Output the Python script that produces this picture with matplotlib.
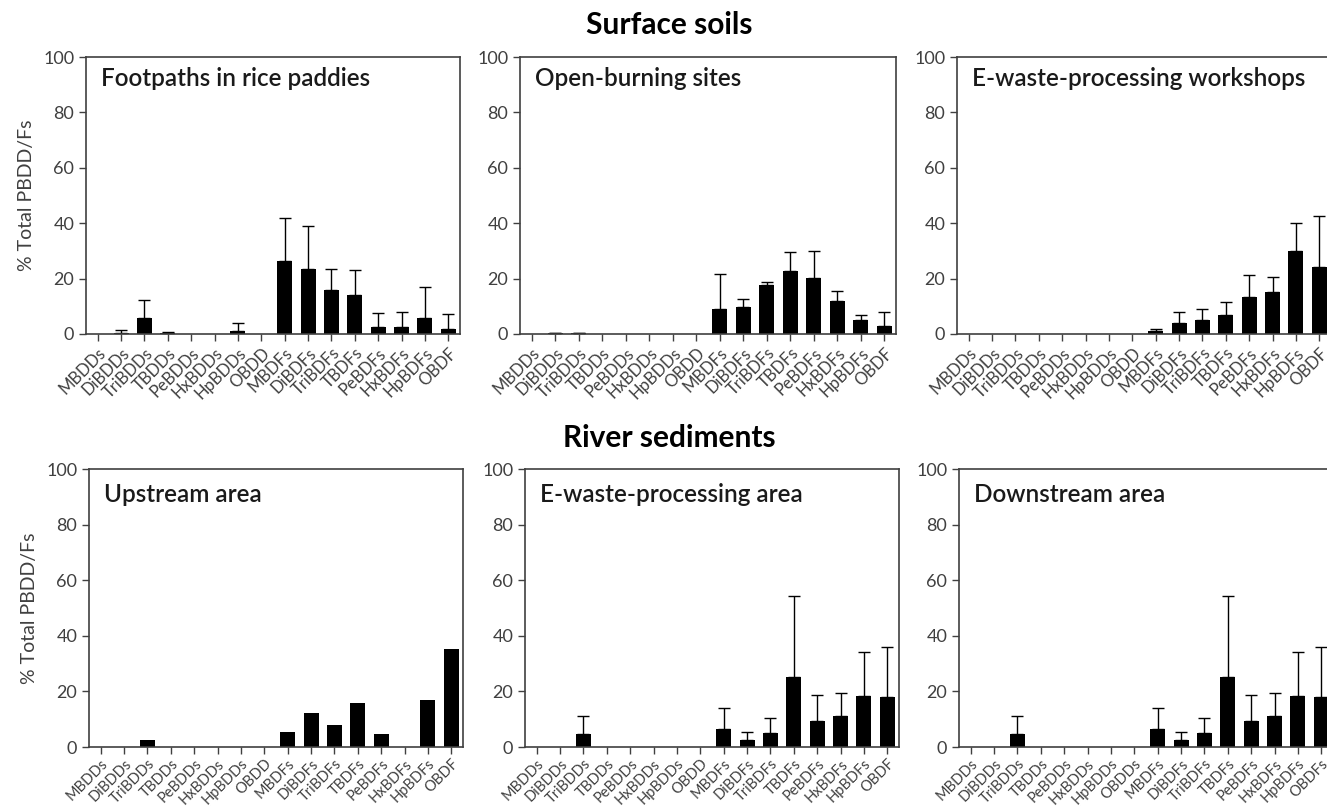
import numpy as np
import matplotlib
matplotlib.use('Agg')
import matplotlib.pyplot as plt

plt.rcParams['font.family'] = ['Lato', 'DejaVu Sans']

labels = ['MBDDs', 'DiBDDs', 'TriBDDs', 'TBDDs', 'PeBDDs', 'HxBDDs', 'HpBDDs', 'OBDD',
          'MBDFs', 'DiBDFs', 'TriBDFs', 'TBDFs', 'PeBDFs', 'HxBDFs', 'HpBDFs', 'OBDF']
labels_down = ['MBDDs', 'DiBDDs', 'TriBDDs', 'TBDDs', 'PeBDDs', 'HxBDDs', 'HpBDDs', 'OBDDs',
               'MBDFs', 'DiBDFs', 'TriBDFs', 'TBDFs', 'PeBDFs', 'HxBDFs', 'HpBDFs', 'OBDFs']

# surface soils
footpaths = [0, 0.5, 5.8, 0.2, 0, 0, 1.0, 0, 26.5, 23.6, 16.0, 14.0, 2.4, 2.4, 5.8, 1.9]
footpaths_sd = [0, 1.0, 6.6, 0.6, 0, 0, 2.8, 0, 15.3, 15.4, 7.6, 9.2, 5.2, 5.6, 11.1, 5.2]
burning = [0, 0.2, 0.2, 0, 0, 0, 0, 0, 8.9, 9.9, 17.7, 22.8, 20.1, 11.8, 5.0, 3.0]
burning_sd = [0, 0.3, 0.3, 0, 0, 0, 0, 0, 12.7, 2.7, 1.2, 6.9, 9.9, 3.7, 2.0, 4.8]
workshops = [0, 0, 0, 0, 0, 0, 0, 0, 1.1, 4.1, 5.0, 6.9, 13.2, 15.0, 29.9, 24.2]
workshops_sd = [0, 0, 0, 0, 0, 0, 0, 0, 0.7, 3.7, 4.2, 4.7, 8.1, 5.4, 10.2, 18.3]

# river sediments
upstream = [0, 0, 2.5, 0, 0, 0, 0, 0, 5.4, 12.1, 7.8, 15.9, 4.6, 0, 16.9, 35.4]
upstream_sd = [0] * 16
ewaste_area = [0, 0, 4.6, 0, 0, 0, 0, 0, 6.4, 2.5, 4.9, 25.2, 9.4, 11.3, 18.5, 17.9]
ewaste_area_sd = [0, 0, 6.6, 0, 0, 0, 0, 0, 7.5, 2.8, 5.7, 29.1, 9.4, 8.0, 15.7, 18.2]
downstream = [0, 0, 4.6, 0, 0, 0, 0, 0, 6.4, 2.5, 4.9, 25.2, 9.4, 11.3, 18.5, 17.9]
downstream_sd = [0, 0, 6.6, 0, 0, 0, 0, 0, 7.5, 2.8, 5.7, 29.1, 9.4, 8.0, 15.7, 18.2]

panels = [
    ('Footpaths in rice paddies', footpaths, footpaths_sd, labels),
    ('Open-burning sites', burning, burning_sd, labels),
    ('E-waste-processing workshops', workshops, workshops_sd, labels),
    ('Upstream area', upstream, upstream_sd, labels),
    ('E-waste-processing area', ewaste_area, ewaste_area_sd, labels),
    ('Downstream area', downstream, downstream_sd, labels_down),
]

W, H = 1327, 810
# axes boxes in pixels: left, top, right, bottom
boxes = [
    (86, 57, 460, 334), (520, 57, 896, 334), (957, 57, 1331, 334),
    (89, 469, 463, 747), (525, 469, 899, 747), (959, 469, 1333, 747),
]

grey = '#404040'
fig = plt.figure(figsize=(W / 100, H / 100), dpi=100)

for i, (name, vals, sd, labs) in enumerate(panels):
    l, t, r, b = boxes[i]
    ax = fig.add_axes([l / W, (H - b) / H, (r - l) / W, (b - t) / H])
    x = np.arange(len(vals))
    vals = np.array(vals, dtype=float)
    sd = np.array(sd, dtype=float)
    ax.bar(x, vals, width=0.64, color='black', zorder=2)
    m = sd > 0
    if m.any():
        ax.errorbar(x[m], vals[m], yerr=[np.zeros(m.sum()), sd[m]], fmt='none',
                    ecolor='black', elinewidth=1.0, capsize=4, capthick=1.0, zorder=1)
    ax.set_xlim(-0.5, len(vals) - 0.5)
    ax.set_ylim(0, 100)
    ax.set_yticks([0, 20, 40, 60, 80, 100])
    ax.set_xticks(x)
    # bottom row labels a little smaller so they stay on the page
    xfs = 12 if i < 3 else 10.5
    ax.set_xticklabels(labs, rotation=45, ha='right', rotation_mode='anchor',
                       fontsize=xfs, color=grey)
    ax.tick_params(axis='y', labelsize=13, labelcolor=grey, color=grey,
                   direction='out', length=5, width=1.0)
    ax.tick_params(axis='x', color=grey, direction='out', length=5, width=1.0,
                   pad=3 if i < 3 else 2)
    for s in ax.spines.values():
        s.set_color(grey)
        s.set_linewidth(1.2)
    ty = 0.965 if i < 3 else 0.95
    ax.text(0.04, ty, name, transform=ax.transAxes, ha='left', va='top',
            fontsize=17.5, fontweight='semibold', color='#1a1a1a')
    if i % 3 == 0:
        ax.set_ylabel('% Total PBDD/Fs', fontsize=14, color=grey, labelpad=6)

fig.text(669 / W, 1 - 25 / H, 'Surface soils', ha='center', va='center',
         fontsize=21.5, fontweight='bold', color='black')
fig.text(669 / W, 1 - 438 / H, 'River sediments', ha='center', va='center',
         fontsize=21.5, fontweight='bold', color='black')

fig.savefig('out.png', dpi=100, facecolor='white')
